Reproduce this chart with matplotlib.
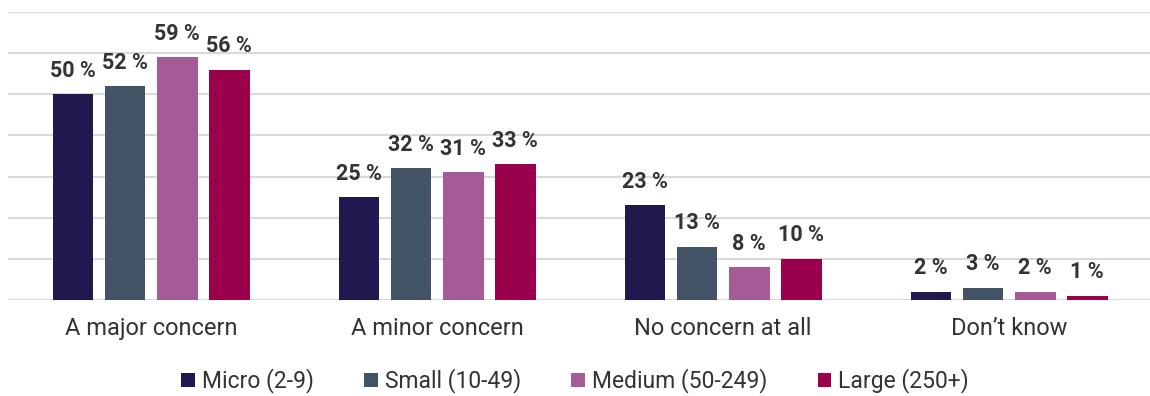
import numpy as np
import matplotlib
matplotlib.use("Agg")
import matplotlib.pyplot as plt

plt.rcParams['font.family'] = ['Roboto', 'DejaVu Sans']

categories = ["A major concern", "A minor concern", "No concern at all", "Don\u2019t know"]
series = ["Micro (2-9)", "Small (10-49)", "Medium (50-249)", "Large (250+)"]
values = {
    "Micro (2-9)": [50, 25, 23, 2],
    "Small (10-49)": [52, 32, 13, 3],
    "Medium (50-249)": [59, 31, 8, 2],
    "Large (250+)": [56, 33, 10, 1],
}
colors = ["#21184f", "#415364", "#a55b95", "#9a004c"]

fig = plt.figure(figsize=(11.5, 3.96), dpi=100)
ax = fig.add_axes([0.007, 0.2424, 0.9948, 0.7273])

x = np.arange(len(categories))
pitch = 0.182
width = 0.143
for i, (name, col) in enumerate(zip(series, colors)):
    pos = x + (i - 1.5) * pitch
    bars = ax.bar(pos, values[name], width=width, color=col, label=name, zorder=3)
    for b, v in zip(bars, values[name]):
        ax.annotate(f"{v} %", (b.get_x() + b.get_width() / 2, v),
                    xytext=(0, 9), textcoords="offset points",
                    ha="center", va="bottom", fontsize=15.5, fontweight="bold",
                    color="#333333", zorder=4)

ax.set_xlim(-0.5, len(categories) - 0.5)
ax.set_ylim(0, 70)
ax.set_yticks(np.arange(0, 71, 10))
ax.yaxis.grid(True, color="#d9d9d9", linewidth=1.5, zorder=0)
ax.tick_params(axis="y", left=False, labelleft=False)
ax.tick_params(axis="x", bottom=False, labelsize=17, labelcolor="#333333", pad=9)
ax.set_xticks(x)
ax.set_xticklabels(categories)
for s in ax.spines.values():
    s.set_visible(False)

fig.legend(loc="center", bbox_to_anchor=(0.5, 0.038), ncol=4, frameon=False,
           fontsize=16.5, handlelength=0.6, handleheight=0.6, handletextpad=0.3,
           columnspacing=2.2, labelcolor="#333333")

fig.savefig("out.png", dpi=100)
